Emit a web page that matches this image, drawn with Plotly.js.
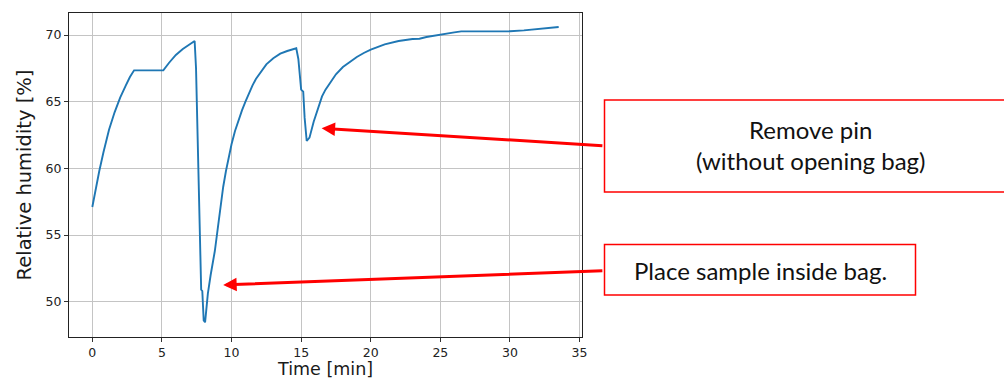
<!DOCTYPE html>
<html>
<head>
<meta charset="utf-8">
<script src="https://cdn.plot.ly/plotly-3.0.1.min.js"></script>
<style>html,body{margin:0;padding:0;background:#fff;}#chart{width:1004px;height:380px;}</style>
</head>
<body>
<div id="chart"></div>
<script>
var timeMin = [0, 0.1, 0.25, 0.5, 0.8, 1.2, 1.6, 2.0, 2.4, 2.7, 3.0, 4.0, 5.1, 5.5, 6.0, 6.5, 7.0, 7.35, 7.45, 7.55, 7.65, 7.75, 7.82, 7.9, 8.0, 8.1, 8.2, 8.3, 8.5, 8.8, 9.0, 9.2, 9.4, 9.6, 9.8, 10.0, 10.25, 10.5, 10.75, 11.0, 11.25, 11.5, 11.75, 12.0, 12.5, 13.0, 13.5, 14.0, 14.65, 14.8, 14.95, 15.0, 15.15, 15.25, 15.4, 15.6, 15.9, 16.2, 16.5, 16.75, 17.0, 17.5, 18.0, 18.5, 19.0, 19.5, 20.0, 21.0, 22.0, 23.0, 23.5, 24.0, 25.0, 26.0, 26.5, 27.0, 28.0, 29.0, 30.0, 31.0, 32.0, 33.0, 33.5];
var humidity = [57.1, 57.7, 58.6, 59.8, 61.2, 62.9, 64.2, 65.3, 66.2, 66.85, 67.35, 67.35, 67.35, 67.9, 68.5, 68.95, 69.3, 69.55, 67.5, 63.0, 59.5, 55.0, 50.9, 50.8, 48.6, 48.45, 49.8, 50.6, 52.0, 53.8, 55.4, 57.2, 58.6, 59.8, 60.9, 61.8, 62.8, 63.6, 64.35, 65.0, 65.65, 66.2, 66.7, 67.1, 67.8, 68.25, 68.6, 68.8, 69.0, 68.2, 66.0, 65.9, 65.75, 63.8, 62.05, 62.3, 63.5, 64.5, 65.4, 65.9, 66.3, 67.05, 67.6, 68.0, 68.35, 68.65, 68.9, 69.3, 69.55, 69.7, 69.72, 69.85, 70.05, 70.2, 70.27, 70.27, 70.27, 70.3, 70.28, 70.35, 70.45, 70.55, 70.6];
var xTicks = [0, 5, 10, 15, 20, 25, 30, 35];
var yTicks = [50, 55, 60, 65, 70];
var xTitle = "Time [min]";
var yTitle = "Relative humidity [%]";
var noteRemovePin = "Remove pin<br>(without opening bag)";
var notePlaceSample = "Place sample inside bag.";
var removePinPoint = {x: 16.47, y: 63.0};
var placeSamplePoint = {x: 9.4, y: 51.25};

var trace = {
  x: timeMin, y: humidity, type: 'scatter', mode: 'lines',
  line: {color: '#1f77b4', width: 1.9}, hoverinfo: 'none'
};

var axisCommon = {
  showgrid: true, gridcolor: '#c4c4c4', gridwidth: 1,
  zeroline: false, showline: true, mirror: true, linecolor: '#222', linewidth: 1,
  ticks: 'outside', ticklen: 4, tickcolor: '#333', tickwidth: 1,
  tickfont: {family: 'DejaVu Sans', size: 12.5, color: '#222'}
};

var layout = {
  width: 1004, height: 380,
  margin: {l: 69, r: 422, t: 13, b: 43, pad: 0},
  paper_bgcolor: '#fff', plot_bgcolor: '#fff',
  showlegend: false,
  xaxis: Object.assign({}, axisCommon, {
    range: [-1.675, 35.175], tickvals: xTicks, ticktext: xTicks.map(String),
    automargin: false
  }),
  yaxis: Object.assign({}, axisCommon, {
    range: [47.35, 71.65], tickvals: yTicks, ticktext: yTicks.map(String),
    automargin: false,
    title: {text: yTitle, font: {family: 'DejaVu Sans', size: 19.5, color: '#1a1a1a'}, standoff: 8}
  }),
  shapes: [
    {type: 'rect', xref: 'paper', yref: 'paper', layer: 'above',
     x0: (604.5 - 69) / 513, x1: (1015 - 69) / 513,
     y0: (337 - 192) / 324, y1: (337 - 100) / 324,
     line: {color: '#ff0000', width: 1.5}, fillcolor: 'rgba(0,0,0,0)'},
    {type: 'rect', xref: 'paper', yref: 'paper', layer: 'above',
     x0: (604.5 - 69) / 513, x1: (915.5 - 69) / 513,
     y0: (337 - 295) / 324, y1: (337 - 244.5) / 324,
     line: {color: '#ff0000', width: 1.5}, fillcolor: 'rgba(0,0,0,0)'}
  ],
  annotations: [
    {xref: 'paper', yref: 'paper', x: (324.7 - 69) / 513, y: (337 - 369) / 324,
     xanchor: 'center', yanchor: 'middle', showarrow: false,
     text: xTitle, font: {family: 'DejaVu Sans', size: 17.5, color: '#1a1a1a'}},
    {xref: 'paper', yref: 'paper', x: (810 - 69) / 513, y: (337 - 145) / 324,
     xanchor: 'center', yanchor: 'middle', showarrow: false, align: 'center',
     text: noteRemovePin, font: {family: 'Lato', size: 24, color: '#111'}},
    {xref: 'paper', yref: 'paper', x: (760 - 69) / 513, y: (337 - 270.5) / 324,
     xanchor: 'center', yanchor: 'middle', showarrow: false, align: 'center',
     text: notePlaceSample, font: {family: 'Lato', size: 24, color: '#111'}},
    {x: removePinPoint.x, y: removePinPoint.y, xref: 'x', yref: 'y', text: '',
     showarrow: true, arrowhead: 2, arrowsize: 0.9, arrowwidth: 3, arrowcolor: '#ff0000',
     ax: 604 - 321.7, ay: 145.7 - 128.3, standoff: 0},
    {x: placeSamplePoint.x, y: placeSamplePoint.y, xref: 'x', yref: 'y', text: '',
     showarrow: true, arrowhead: 2, arrowsize: 0.9, arrowwidth: 3, arrowcolor: '#ff0000',
     ax: 604 - 223.3, ay: 270.7 - 285, standoff: 0}
  ]
};

Plotly.newPlot('chart', [trace], layout, {displayModeBar: false, staticPlot: true});
</script>
</body>
</html>
